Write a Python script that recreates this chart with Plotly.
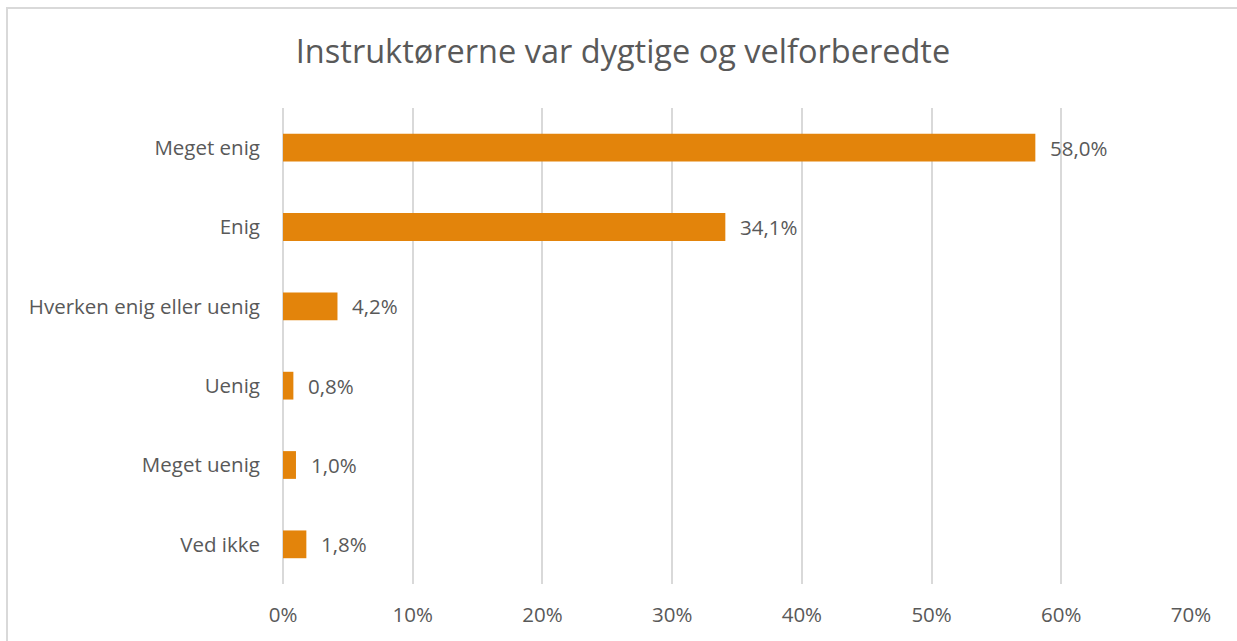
import plotly.graph_objects as go

categories = ["Meget enig", "Enig", "Hverken enig eller uenig", "Uenig", "Meget uenig", "Ved ikke"]
values = [58.0, 34.1, 4.2, 0.8, 1.0, 1.8]
tick_vals = [0, 10, 20, 30, 40, 50, 60, 70]
tick_text = [f"{v}%" for v in tick_vals]
title_text = "Instruktørerne var dygtige og velforberedte"

FONT = "Open Sans"
GREY = "#595959"
FS = 20.5

fig = go.Figure()
fig.add_trace(go.Bar(
    x=values, y=categories, orientation="h",
    marker=dict(color="#E3840B", line=dict(width=0)),
    hoverinfo="skip",
))

for v, c in zip(values, categories):
    fig.add_annotation(
        x=v, y=c, xref="x", yref="y",
        text=f"{v:.1f}%".replace(".", ","),
        showarrow=False, xanchor="left", xshift=13,
        font=dict(family=FONT, size=FS, color=GREY),
    )

W, H = 1237, 641
L, R, T, B = 283, 46, 108, 57
pw, ph = W - L - R, H - T - B
fig.add_shape(
    type="rect", xref="paper", yref="paper",
    x0=(7 - L) / pw, x1=(W + 20 - L) / pw,
    y0=-(B + 20) / ph, y1=(H - B - 8) / ph,
    line=dict(color="#D9D9D9", width=2), fillcolor="rgba(0,0,0,0)", layer="below",
)

fig.update_layout(
    width=W, height=H,
    margin=dict(l=L, r=R, t=T, b=B),
    paper_bgcolor="white", plot_bgcolor="white",
    separators=",.",
    bargap=0.65,
    showlegend=False,
    title=dict(text=title_text, x=(623 - L) / pw, xref="paper", xanchor="center",
               y=1 - 52 / H, yanchor="middle", yref="container",
               font=dict(family=FONT, size=32.5, color=GREY)),
    font=dict(family=FONT, size=FS, color=GREY),
)
fig.update_xaxes(
    range=[0, 70], tickvals=tick_vals, ticktext=tick_text,
    showgrid=True, gridcolor="#D9D9D9", gridwidth=1.5,
    zeroline=True, zerolinecolor="#D9D9D9", zerolinewidth=1.5,
    showline=False, ticks="", ticklabelstandoff=16,
    tickfont=dict(family=FONT, size=FS, color=GREY),
)
fig.update_yaxes(
    categoryorder="array", categoryarray=categories, autorange="reversed",
    showgrid=False, zeroline=False, showline=False, ticks="",
    ticklabelstandoff=22,
    tickfont=dict(family=FONT, size=FS, color=GREY),
)

fig.write_html("out.html", config={"displayModeBar": False},
               post_script="document.body.style.margin='0';document.body.style.overflow='hidden';")
